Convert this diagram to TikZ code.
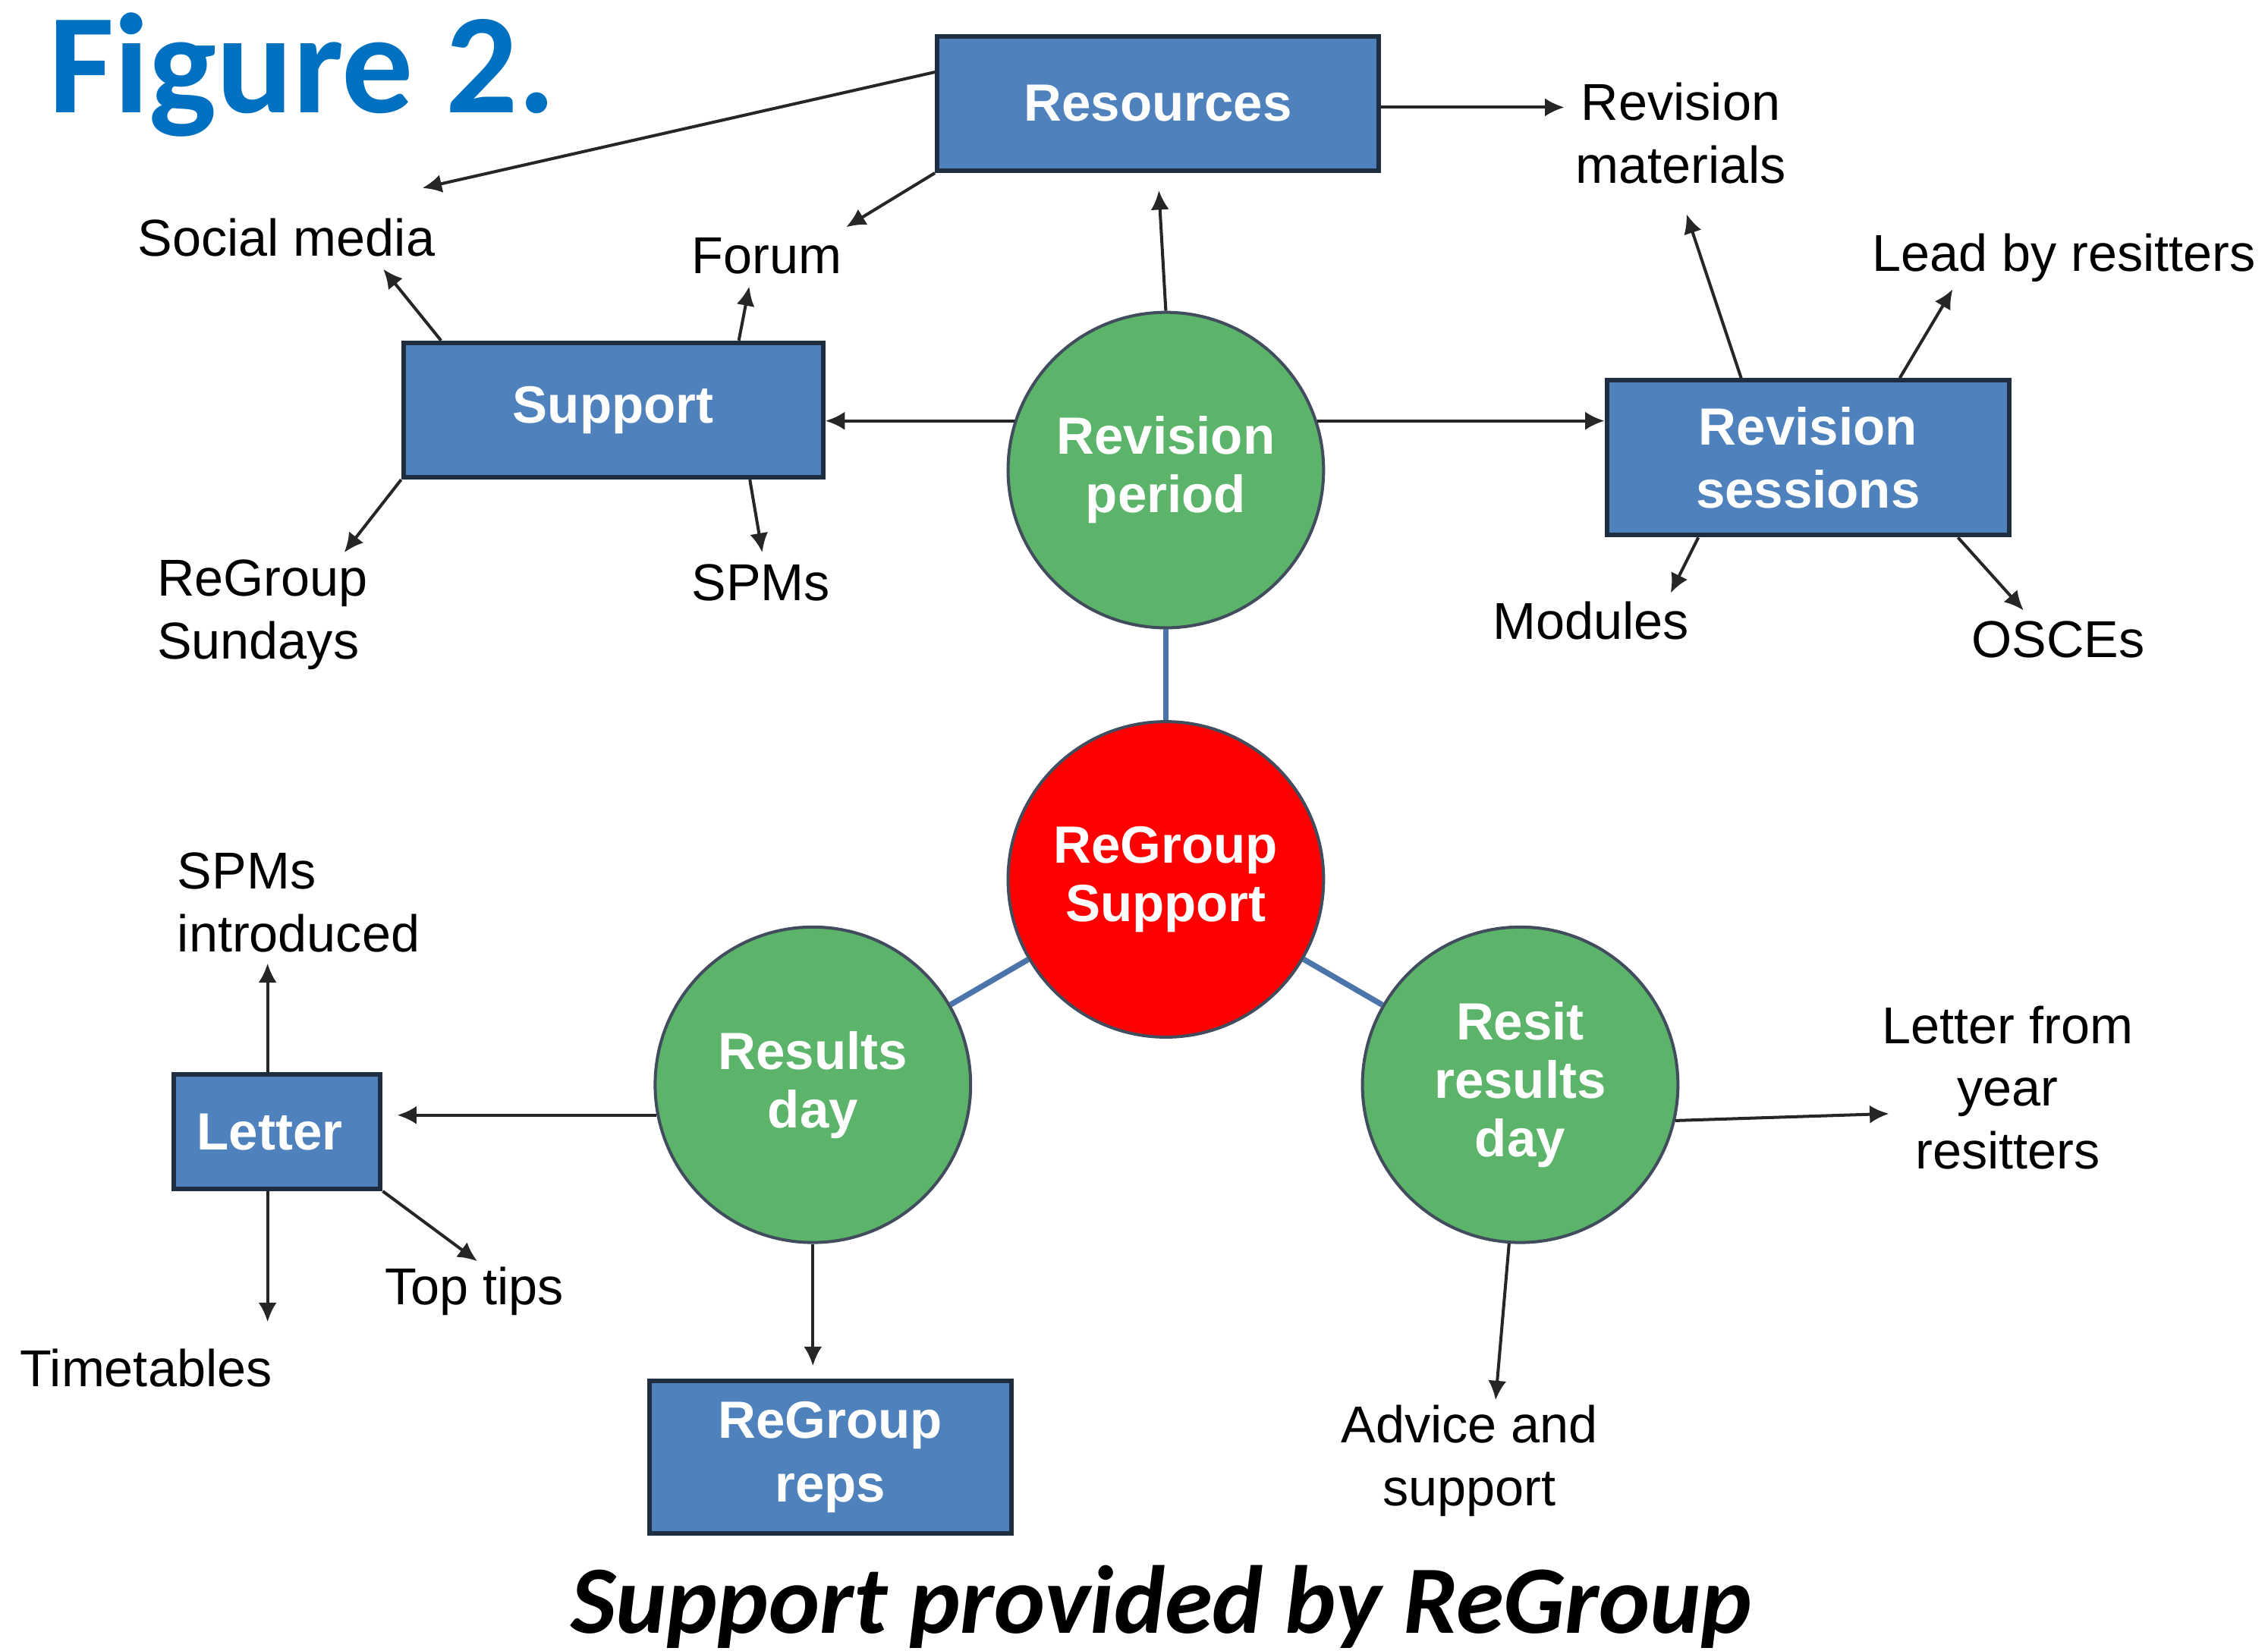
\documentclass[tikz,border=0pt]{standalone}
\usepackage{fontspec}
\setmainfont{Liberation Sans}
\newfontfamily\rgCalibri{Carlito}
\usetikzlibrary{arrows.meta,positioning,calc}
\definecolor{rgBlue}{HTML}{4F81BD}
\definecolor{rgEdge}{HTML}{1F2D40}
\definecolor{rgGreen}{HTML}{5BB46A}
\definecolor{rgRed}{HTML}{FF0000}
\definecolor{rgLine}{HTML}{4A74AA}
\definecolor{rgTitle}{HTML}{0070C0}
\tikzset{
    rgBoxBase/.style={
        rectangle,
        draw=rgEdge,
        line width=0.9pt,
        fill=rgBlue,
        text=white,
        font=\fontsize{10.3}{12.5}\selectfont\bfseries,
        align=center,
        inner sep=0pt
    },
    rgPhase/.style={
        circle,
        draw=rgEdge!85,
        line width=0.6pt,
        fill=rgGreen,
        text=white,
        font=\fontsize{10.3}{11.5}\selectfont\bfseries,
        align=center,
        minimum size=2.18cm,
        inner sep=0pt
    },
    % Variants
    rgHub/.style={rgPhase, fill=rgRed},
    rgLabel/.style={font=\fontsize{10.2}{12.3}\selectfont, align=center, inner sep=2pt},
    rgHeading/.style={font=\rgCalibri\fontsize{28}{28}\selectfont\bfseries, text=rgTitle, inner sep=0pt},
    rgCaption/.style={font=\rgCalibri\fontsize{19}{20}\selectfont\bfseries\itshape, inner sep=0pt},
    % Arrows
    rgArrow/.style={-{Latex[length=3.8pt,width=3.6pt]}, line width=0.6pt, draw=black!85},
    rgLink/.style={line width=1.1pt, draw=rgLine}
}

\begin{document}
\begin{tikzpicture}[x=0.01cm, y=-0.01cm]
\useasboundingbox (0,0) rectangle (1568,1141);

\node[rgHeading, anchor=base west] (fig) at (33,78) {Figure 2.};
\node[rgCaption, anchor=base] (cap) at (803,1129) {Support provided by ReGroup};

% stages round the hub
\node[rgHub] (regs) at (806,608) {ReGroup\\Support};
\node[rgPhase] (revp) at (806,325) {Revision\\period};
\node[rgPhase] (resd) at (562,750) {Results\\day};
\node[rgPhase] (resit) at (1051,750) {Resit\\results\\day};

\draw[rgLink] (revp) -- (regs);
\draw[rgLink] (regs) -- (resd);
\draw[rgLink] (regs) -- (resit);

% boxes
\node[rgBoxBase, minimum width=3.05cm, minimum height=0.93cm] (res) at (800.5,71.5) {Resources};
\node[rgBoxBase, minimum width=2.9cm, minimum height=0.93cm] (sup) at (424,283.5) {Support};
\node[rgBoxBase, minimum width=2.78cm, minimum height=1.07cm] (sess) at (1250,316.5) {Revision\\sessions};
\node[rgBoxBase, minimum width=1.43cm, minimum height=0.79cm] (letter) at (191.5,782.5) {\hspace{-0.1cm}Letter};
\node[rgBoxBase, minimum width=2.5cm, minimum height=1.05cm] (reps) at (574,1007.5) {ReGroup\\reps};

% plain labels
\node[rgLabel] (socmed) at (198,164) {Social media};
\node[rgLabel] (forum) at (530,177) {Forum};
\node[rgLabel] (revmat) at (1162,92) {Revision\\materials};
\node[rgLabel] (lead) at (1427,178) {Lead by resitters};
\node[rgLabel, align=left, anchor=west] (sundays) at (101,425) {ReGroup\\Sundays};
\node[rgLabel] (spms) at (526,403) {SPMs};
\node[rgLabel] (modules) at (1100,429) {Modules};
\node[rgLabel] (osces) at (1423,442) {OSCEs};
\node[rgLabel, align=left, anchor=west] (spmsint) at (115,624) {SPMs\\introduced};
\node[rgLabel] (timetab) at (101,946) {Timetables};
\node[rgLabel] (toptips) at (328,893) {Top tips};
\node[rgLabel] (lettery) at (1388,752) {Letter from\\year\\resitters};
\node[rgLabel] (advice) at (1016,1010) {Advice and\\support};

% arrow tips beside the labels
\coordinate (socmedTip) at (292,130);
\coordinate (forumTip) at (585,157);
\coordinate (socmedTipB) at (265,186);
\coordinate (forumTipB) at (518,198);
\coordinate (sundaysTip) at (238,382);
\coordinate (spmsTip) at (527,382);
\coordinate (revmatTip) at (1166,148);
\coordinate (leadTip) at (1350,200);
\coordinate (modulesTip) at (1155,410);
\coordinate (oscesTip) at (1399,422);
\coordinate (spmsintTip) at (185,666);
\coordinate (timetabTip) at (185,914);
\coordinate (toptipsTip) at (330,872);
\coordinate (letteryTip) at (1306,770);
\coordinate (adviceTip) at (1034,968);

\draw[rgArrow] (revp.162) -- (revp.162 -| sup.east);
\draw[rgArrow] (revp.18) -- (revp.18 -| sess.west);
\draw[rgArrow, shorten >=0.12cm] (revp.north) -- (res.south);
\draw[rgArrow] (res.-1.7) -- (res.-1.7 -| revmat.west);
\draw[rgArrow] (res.172.7) -- (socmedTip);
\draw[rgArrow] (res.south west) -- (forumTip);

\draw[rgArrow] (sup.158.7) -- (socmedTipB);
\draw[rgArrow] (sup.29.9) -- (forumTipB);
\draw[rgArrow] (sup.south west) -- (sundaysTip);
\draw[rgArrow] (sup.333.4) -- (spmsTip);

\draw[rgArrow] (sess.130.1) -- (revmatTip);
\draw[rgArrow] (sess.41.7) -- (leadTip);
\draw[rgArrow] (sess.216.6) -- (modulesTip);
\draw[rgArrow] (sess.332.1) -- (oscesTip);

\draw[rgArrow, shorten >=0.1cm] (resd.191.6) -- (resd.191.6 -| letter.east);
\draw[rgArrow] (letter.north -| spmsintTip) -- (spmsintTip);
\draw[rgArrow] (letter.south -| timetabTip) -- (timetabTip);
\draw[rgArrow] (letter.south east) -- (toptipsTip);
\draw[rgArrow, shorten >=0.09cm] (resd.south) -- (resd.south |- reps.north);

\draw[rgArrow] (resit.347.3) -- (letteryTip);
\draw[rgArrow] (resit.266.3) -- (adviceTip);
\end{tikzpicture}
\end{document}
